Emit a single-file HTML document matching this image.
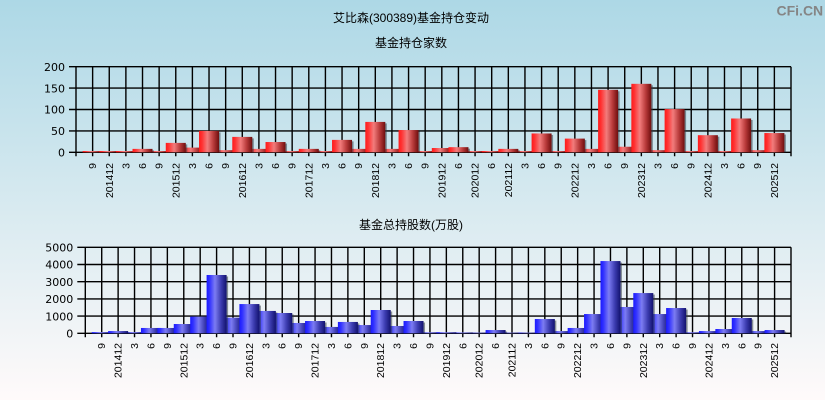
<!DOCTYPE html>
<html><head><meta charset="utf-8"><style>
html,body{margin:0;padding:0}
body{width:825px;height:400px;overflow:hidden;background:linear-gradient(to bottom,#add8e6 0%,#d8eaf0 52%,#fffafa 100%)}
svg{display:block}
.t{font-family:"Liberation Sans","Noto Sans CJK SC",sans-serif;font-size:12px;fill:#000}
.yl{font-family:"DejaVu Sans","Liberation Sans",sans-serif;font-size:11px;fill:#000}
.xl{font-family:"Liberation Sans",sans-serif;font-size:10.5px;fill:#000}
.g{fill:none;stroke:#000;stroke-width:1.4}
.s{fill:rgba(50,60,70,0.55)}
</style></head><body>
<svg width="825" height="400" viewBox="0 0 825 400" xmlns="http://www.w3.org/2000/svg">
<defs>
<linearGradient id="rg" x1="0" y1="0" x2="1" y2="0">
<stop offset="0" stop-color="#ff1a1a"/><stop offset="0.15" stop-color="#ff3232"/><stop offset="0.42" stop-color="#f27c7c"/><stop offset="0.72" stop-color="#b83a3a"/><stop offset="1" stop-color="#6e0e0e"/>
</linearGradient>
<linearGradient id="bg" x1="0" y1="0" x2="1" y2="0">
<stop offset="0" stop-color="#1a1aff"/><stop offset="0.15" stop-color="#3232ff"/><stop offset="0.42" stop-color="#7c7cf2"/><stop offset="0.72" stop-color="#3c3cb0"/><stop offset="1" stop-color="#12126e"/>
</linearGradient>
</defs>

<text class="t" x="411" y="22" text-anchor="middle">艾比森(300389)基金持仓变动</text>
<text class="t" x="411" y="47" text-anchor="middle">基金持仓家数</text>
<text class="t" x="411" y="229" text-anchor="middle">基金总持股数(万股)</text>
<text x="776.5" y="15.5" style="font-family:'Liberation Sans',sans-serif;font-size:14px;font-weight:bold;fill:#858585">CFi.CN</text>

<!-- Red chart -->
<g transform="translate(76,152.3) scale(16.6279,-0.428)">
<path class="g" vector-effect="non-scaling-stroke" d="M0 -9.35V200M1 -9.35V200M2 -9.35V200M3 -9.35V200M4 -9.35V200M5 -9.35V200M6 -9.35V200M7 -9.35V200M8 -9.35V200M9 -9.35V200M10 -9.35V200M11 -9.35V200M12 -9.35V200M13 -9.35V200M14 -9.35V200M15 -9.35V200M16 -9.35V200M17 -9.35V200M18 -9.35V200M19 -9.35V200M20 -9.35V200M21 -9.35V200M22 -9.35V200M23 -9.35V200M24 -9.35V200M25 -9.35V200M26 -9.35V200M27 -9.35V200M28 -9.35V200M29 -9.35V200M30 -9.35V200M31 -9.35V200M32 -9.35V200M33 -9.35V200M34 -9.35V200M35 -9.35V200M36 -9.35V200M37 -9.35V200M38 -9.35V200M39 -9.35V200M40 -9.35V200M41 -9.35V200M42 -9.35V200M43 -9.35V200M-0.421 0H43M-0.421 50H43M-0.421 100H43M-0.421 150H43M-0.421 200H43"/>
<g fill="url(#rg)">
<rect x="0.3986" width="1.2028" height="3"/>
<rect x="1.3986" width="1.2028" height="3"/>
<rect x="2.3986" width="1.2028" height="3"/>
<rect x="4.3986" width="1.2028" height="3"/>
<rect x="12.3986" width="1.2028" height="3"/>
<rect x="14.3986" width="1.2028" height="3"/>
<rect x="20.3986" width="1.2028" height="3"/>
<rect x="23.3986" width="1.2028" height="3"/>
<rect x="24.3986" width="1.2028" height="3"/>
<rect x="26.3986" width="1.2028" height="3"/>
<rect x="28.3986" width="1.2028" height="3"/>
<rect x="36.3986" width="1.2028" height="3"/>
<rect x="38.3986" width="1.2028" height="3"/>
<rect class="s" x="8.4886" width="1.2028" height="1.5"/><rect x="8.3986" width="1.2028" height="5"/>
<rect class="s" x="34.4886" width="1.2028" height="1.5"/><rect x="34.3986" width="1.2028" height="5"/>
<rect class="s" x="40.4886" width="1.2028" height="1.5"/><rect x="40.3986" width="1.2028" height="5"/>
<rect class="s" x="3.4886" width="1.2028" height="4.5"/><rect x="3.3986" width="1.2028" height="8"/>
<rect class="s" x="10.4886" width="1.2028" height="4.5"/><rect x="10.3986" width="1.2028" height="8"/>
<rect class="s" x="13.4886" width="1.2028" height="4.5"/><rect x="13.3986" width="1.2028" height="8"/>
<rect class="s" x="16.4886" width="1.2028" height="4.5"/><rect x="16.3986" width="1.2028" height="8"/>
<rect class="s" x="18.4886" width="1.2028" height="4.5"/><rect x="18.3986" width="1.2028" height="8"/>
<rect class="s" x="25.4886" width="1.2028" height="4.5"/><rect x="25.3986" width="1.2028" height="8"/>
<rect class="s" x="30.4886" width="1.2028" height="4.5"/><rect x="30.3986" width="1.2028" height="8"/>
<rect class="s" x="21.4886" width="1.2028" height="6.5"/><rect x="21.3986" width="1.2028" height="10"/>
<rect class="s" x="6.4886" width="1.2028" height="7.5"/><rect x="6.3986" width="1.2028" height="11"/>
<rect class="s" x="22.4886" width="1.2028" height="8.5"/><rect x="22.3986" width="1.2028" height="12"/>
<rect class="s" x="32.4886" width="1.2028" height="9.5"/><rect x="32.3986" width="1.2028" height="13"/>
<rect class="s" x="5.4886" width="1.2028" height="18.5"/><rect x="5.3986" width="1.2028" height="22"/>
<rect class="s" x="11.4886" width="1.2028" height="20.5"/><rect x="11.3986" width="1.2028" height="24"/>
<rect class="s" x="15.4886" width="1.2028" height="25.5"/><rect x="15.3986" width="1.2028" height="29"/>
<rect class="s" x="29.4886" width="1.2028" height="28.5"/><rect x="29.3986" width="1.2028" height="32"/>
<rect class="s" x="9.4886" width="1.2028" height="32.5"/><rect x="9.3986" width="1.2028" height="36"/>
<rect class="s" x="37.4886" width="1.2028" height="36.5"/><rect x="37.3986" width="1.2028" height="40"/>
<rect class="s" x="27.4886" width="1.2028" height="40.5"/><rect x="27.3986" width="1.2028" height="44"/>
<rect class="s" x="41.4886" width="1.2028" height="41.5"/><rect x="41.3986" width="1.2028" height="45"/>
<rect class="s" x="7.4886" width="1.2028" height="46.5"/><rect x="7.3986" width="1.2028" height="50"/>
<rect class="s" x="19.4886" width="1.2028" height="48.5"/><rect x="19.3986" width="1.2028" height="52"/>
<rect class="s" x="17.4886" width="1.2028" height="67.5"/><rect x="17.3986" width="1.2028" height="71"/>
<rect class="s" x="39.4886" width="1.2028" height="75.5"/><rect x="39.3986" width="1.2028" height="79"/>
<rect class="s" x="35.4886" width="1.2028" height="97.5"/><rect x="35.3986" width="1.2028" height="101"/>
<rect class="s" x="31.4886" width="1.2028" height="142.5"/><rect x="31.3986" width="1.2028" height="146"/>
<rect class="s" x="33.4886" width="1.2028" height="156.5"/><rect x="33.3986" width="1.2028" height="160"/>
</g>
</g>
<g class="yl" text-anchor="end">
<text x="65" y="70.9">200</text>
<text x="65" y="92.3">150</text>
<text x="65" y="113.7">100</text>
<text x="65" y="135.1">50</text>
<text x="65" y="156.5">0</text>
</g>
<g class="xl" text-anchor="end">
<text transform="translate(96.1 163) rotate(-90)">9</text>
<text transform="translate(112.8 163) rotate(-90)">201412</text>
<text transform="translate(129.4 163) rotate(-90)">3</text>
<text transform="translate(146.0 163) rotate(-90)">6</text>
<text transform="translate(162.6 163) rotate(-90)">9</text>
<text transform="translate(179.3 163) rotate(-90)">201512</text>
<text transform="translate(195.9 163) rotate(-90)">3</text>
<text transform="translate(212.5 163) rotate(-90)">6</text>
<text transform="translate(229.2 163) rotate(-90)">9</text>
<text transform="translate(245.8 163) rotate(-90)">201612</text>
<text transform="translate(262.4 163) rotate(-90)">3</text>
<text transform="translate(279.0 163) rotate(-90)">6</text>
<text transform="translate(295.7 163) rotate(-90)">9</text>
<text transform="translate(312.3 163) rotate(-90)">201712</text>
<text transform="translate(328.9 163) rotate(-90)">3</text>
<text transform="translate(345.5 163) rotate(-90)">6</text>
<text transform="translate(362.2 163) rotate(-90)">9</text>
<text transform="translate(378.8 163) rotate(-90)">201812</text>
<text transform="translate(395.4 163) rotate(-90)">3</text>
<text transform="translate(412.1 163) rotate(-90)">6</text>
<text transform="translate(428.7 163) rotate(-90)">9</text>
<text transform="translate(445.3 163) rotate(-90)">201912</text>
<text transform="translate(461.9 163) rotate(-90)">6</text>
<text transform="translate(478.6 163) rotate(-90)">202012</text>
<text transform="translate(495.2 163) rotate(-90)">6</text>
<text transform="translate(511.8 163) rotate(-90)">202112</text>
<text transform="translate(528.5 163) rotate(-90)">3</text>
<text transform="translate(545.1 163) rotate(-90)">6</text>
<text transform="translate(561.7 163) rotate(-90)">9</text>
<text transform="translate(578.3 163) rotate(-90)">202212</text>
<text transform="translate(595.0 163) rotate(-90)">3</text>
<text transform="translate(611.6 163) rotate(-90)">6</text>
<text transform="translate(628.2 163) rotate(-90)">9</text>
<text transform="translate(644.8 163) rotate(-90)">202312</text>
<text transform="translate(661.5 163) rotate(-90)">3</text>
<text transform="translate(678.1 163) rotate(-90)">6</text>
<text transform="translate(694.7 163) rotate(-90)">9</text>
<text transform="translate(711.4 163) rotate(-90)">202412</text>
<text transform="translate(728.0 163) rotate(-90)">3</text>
<text transform="translate(744.6 163) rotate(-90)">6</text>
<text transform="translate(761.2 163) rotate(-90)">9</text>
<text transform="translate(777.9 163) rotate(-90)">202512</text>
</g>

<!-- Blue chart -->
<g transform="translate(85.3,333.3) scale(16.4116,-0.0172)">
<path class="g" vector-effect="non-scaling-stroke" d="M0 -232.6V5000M1 -232.6V5000M2 -232.6V5000M3 -232.6V5000M4 -232.6V5000M5 -232.6V5000M6 -232.6V5000M7 -232.6V5000M8 -232.6V5000M9 -232.6V5000M10 -232.6V5000M11 -232.6V5000M12 -232.6V5000M13 -232.6V5000M14 -232.6V5000M15 -232.6V5000M16 -232.6V5000M17 -232.6V5000M18 -232.6V5000M19 -232.6V5000M20 -232.6V5000M21 -232.6V5000M22 -232.6V5000M23 -232.6V5000M24 -232.6V5000M25 -232.6V5000M26 -232.6V5000M27 -232.6V5000M28 -232.6V5000M29 -232.6V5000M30 -232.6V5000M31 -232.6V5000M32 -232.6V5000M33 -232.6V5000M34 -232.6V5000M35 -232.6V5000M36 -232.6V5000M37 -232.6V5000M38 -232.6V5000M39 -232.6V5000M40 -232.6V5000M41 -232.6V5000M42 -232.6V5000M43 -232.6V5000M-0.487 0H43M-0.487 1000H43M-0.487 2000H43M-0.487 3000H43M-0.487 4000H43M-0.487 5000H43"/>
<g fill="url(#bg)">
<rect x="23.3907" width="1.2187" height="40"/>
<rect x="25.3907" width="1.2187" height="40"/>
<rect x="26.3907" width="1.2187" height="40"/>
<rect x="22.3907" width="1.2187" height="50"/>
<rect x="20.3907" width="1.2187" height="60"/>
<rect x="21.3907" width="1.2187" height="60"/>
<rect x="36.3907" width="1.2187" height="60"/>
<rect x="0.3907" width="1.2187" height="70"/>
<rect x="2.3907" width="1.2187" height="70"/>
<rect class="s" x="1.4821" width="1.2187" height="43"/><rect x="1.3907" width="1.2187" height="130"/>
<rect class="s" x="28.4821" width="1.2187" height="43"/><rect x="28.3907" width="1.2187" height="130"/>
<rect class="s" x="37.4821" width="1.2187" height="43"/><rect x="37.3907" width="1.2187" height="130"/>
<rect class="s" x="40.4821" width="1.2187" height="43"/><rect x="40.3907" width="1.2187" height="130"/>
<rect class="s" x="24.4821" width="1.2187" height="103"/><rect x="24.3907" width="1.2187" height="190"/>
<rect class="s" x="41.4821" width="1.2187" height="103"/><rect x="41.3907" width="1.2187" height="190"/>
<rect class="s" x="38.4821" width="1.2187" height="163"/><rect x="38.3907" width="1.2187" height="250"/>
<rect class="s" x="3.4821" width="1.2187" height="223"/><rect x="3.3907" width="1.2187" height="310"/>
<rect class="s" x="4.4821" width="1.2187" height="223"/><rect x="4.3907" width="1.2187" height="310"/>
<rect class="s" x="29.4821" width="1.2187" height="223"/><rect x="29.3907" width="1.2187" height="310"/>
<rect class="s" x="14.4821" width="1.2187" height="283"/><rect x="14.3907" width="1.2187" height="370"/>
<rect class="s" x="18.4821" width="1.2187" height="338"/><rect x="18.3907" width="1.2187" height="425"/>
<rect class="s" x="16.4821" width="1.2187" height="393"/><rect x="16.3907" width="1.2187" height="480"/>
<rect class="s" x="5.4821" width="1.2187" height="453"/><rect x="5.3907" width="1.2187" height="540"/>
<rect class="s" x="12.4821" width="1.2187" height="513"/><rect x="12.3907" width="1.2187" height="600"/>
<rect class="s" x="15.4821" width="1.2187" height="573"/><rect x="15.3907" width="1.2187" height="660"/>
<rect class="s" x="13.4821" width="1.2187" height="628"/><rect x="13.3907" width="1.2187" height="715"/>
<rect class="s" x="19.4821" width="1.2187" height="628"/><rect x="19.3907" width="1.2187" height="715"/>
<rect class="s" x="27.4821" width="1.2187" height="743"/><rect x="27.3907" width="1.2187" height="830"/>
<rect class="s" x="39.4821" width="1.2187" height="803"/><rect x="39.3907" width="1.2187" height="890"/>
<rect class="s" x="8.4821" width="1.2187" height="823"/><rect x="8.3907" width="1.2187" height="910"/>
<rect class="s" x="6.4821" width="1.2187" height="883"/><rect x="6.3907" width="1.2187" height="970"/>
<rect class="s" x="30.4821" width="1.2187" height="1033"/><rect x="30.3907" width="1.2187" height="1120"/>
<rect class="s" x="34.4821" width="1.2187" height="1033"/><rect x="34.3907" width="1.2187" height="1120"/>
<rect class="s" x="11.4821" width="1.2187" height="1093"/><rect x="11.3907" width="1.2187" height="1180"/>
<rect class="s" x="10.4821" width="1.2187" height="1213"/><rect x="10.3907" width="1.2187" height="1300"/>
<rect class="s" x="17.4821" width="1.2187" height="1268"/><rect x="17.3907" width="1.2187" height="1355"/>
<rect class="s" x="35.4821" width="1.2187" height="1383"/><rect x="35.3907" width="1.2187" height="1470"/>
<rect class="s" x="32.4821" width="1.2187" height="1443"/><rect x="32.3907" width="1.2187" height="1530"/>
<rect class="s" x="9.4821" width="1.2187" height="1613"/><rect x="9.3907" width="1.2187" height="1700"/>
<rect class="s" x="33.4821" width="1.2187" height="2253"/><rect x="33.3907" width="1.2187" height="2340"/>
<rect class="s" x="7.4821" width="1.2187" height="3303"/><rect x="7.3907" width="1.2187" height="3390"/>
<rect class="s" x="31.4821" width="1.2187" height="4113"/><rect x="31.3907" width="1.2187" height="4200"/>
</g>
</g>
<g class="yl" text-anchor="end">
<text x="73.3" y="251.5">5000</text>
<text x="73.3" y="268.7">4000</text>
<text x="73.3" y="285.9">3000</text>
<text x="73.3" y="303.1">2000</text>
<text x="73.3" y="320.3">1000</text>
<text x="73.3" y="337.5">0</text>
</g>
<g class="xl" text-anchor="end">
<text transform="translate(105.2 343) rotate(-90)">9</text>
<text transform="translate(121.6 343) rotate(-90)">201412</text>
<text transform="translate(138.0 343) rotate(-90)">3</text>
<text transform="translate(154.4 343) rotate(-90)">6</text>
<text transform="translate(170.9 343) rotate(-90)">9</text>
<text transform="translate(187.3 343) rotate(-90)">201512</text>
<text transform="translate(203.7 343) rotate(-90)">3</text>
<text transform="translate(220.1 343) rotate(-90)">6</text>
<text transform="translate(236.5 343) rotate(-90)">9</text>
<text transform="translate(252.9 343) rotate(-90)">201612</text>
<text transform="translate(269.3 343) rotate(-90)">3</text>
<text transform="translate(285.7 343) rotate(-90)">6</text>
<text transform="translate(302.2 343) rotate(-90)">9</text>
<text transform="translate(318.6 343) rotate(-90)">201712</text>
<text transform="translate(335.0 343) rotate(-90)">3</text>
<text transform="translate(351.4 343) rotate(-90)">6</text>
<text transform="translate(367.8 343) rotate(-90)">9</text>
<text transform="translate(384.2 343) rotate(-90)">201812</text>
<text transform="translate(400.6 343) rotate(-90)">3</text>
<text transform="translate(417.0 343) rotate(-90)">6</text>
<text transform="translate(433.4 343) rotate(-90)">9</text>
<text transform="translate(449.9 343) rotate(-90)">201912</text>
<text transform="translate(466.3 343) rotate(-90)">6</text>
<text transform="translate(482.7 343) rotate(-90)">202012</text>
<text transform="translate(499.1 343) rotate(-90)">6</text>
<text transform="translate(515.5 343) rotate(-90)">202112</text>
<text transform="translate(531.9 343) rotate(-90)">3</text>
<text transform="translate(548.3 343) rotate(-90)">6</text>
<text transform="translate(564.7 343) rotate(-90)">9</text>
<text transform="translate(581.2 343) rotate(-90)">202212</text>
<text transform="translate(597.6 343) rotate(-90)">3</text>
<text transform="translate(614.0 343) rotate(-90)">6</text>
<text transform="translate(630.4 343) rotate(-90)">9</text>
<text transform="translate(646.8 343) rotate(-90)">202312</text>
<text transform="translate(663.2 343) rotate(-90)">3</text>
<text transform="translate(679.6 343) rotate(-90)">6</text>
<text transform="translate(696.0 343) rotate(-90)">9</text>
<text transform="translate(712.4 343) rotate(-90)">202412</text>
<text transform="translate(728.9 343) rotate(-90)">3</text>
<text transform="translate(745.3 343) rotate(-90)">6</text>
<text transform="translate(761.7 343) rotate(-90)">9</text>
<text transform="translate(778.1 343) rotate(-90)">202512</text>
</g>
</svg>
</body></html>
